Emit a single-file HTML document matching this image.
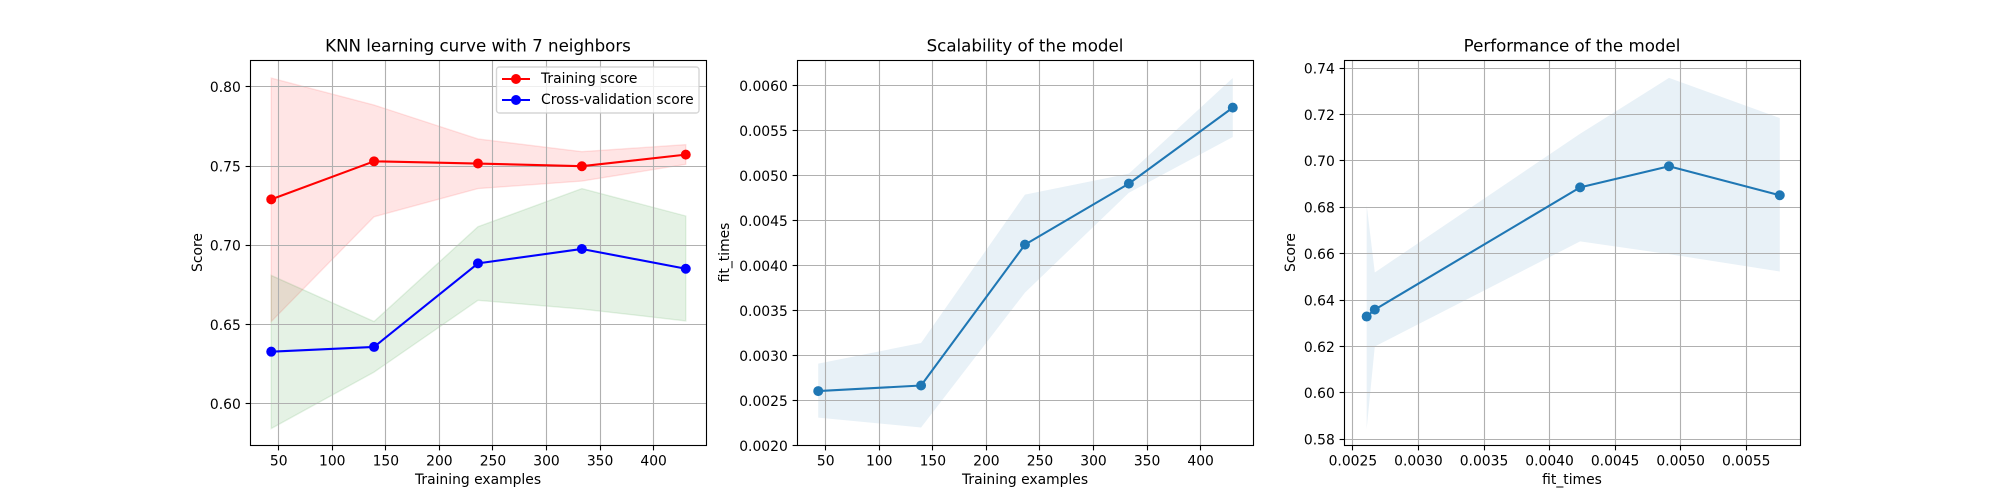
<!DOCTYPE html>
<html>
<head>
<meta charset="utf-8">
<title>KNN learning curve</title>
<style>
html,body{margin:0;padding:0;background:#fff;width:2000px;height:500px;overflow:hidden}
svg{display:block}
text{font-family:"DejaVu Sans","Liberation Sans",sans-serif;fill:#000}
</style>
</head>
<body>
<svg id="fig" xmlns="http://www.w3.org/2000/svg" width="2000" height="500" viewBox="0 0 2000 500">
  <rect x="0" y="0" width="2000" height="500" fill="#fff"/>

  <g id="ax1"></g>
  <g>
    <rect x="496.5" y="67" width="202.5" height="46" rx="2.8" ry="2.8" fill="#fff" fill-opacity="0.8" stroke="#ccc" stroke-opacity="0.8" stroke-width="1.39"/>
    <g>
      <line x1="502" y1="79" x2="530" y2="79" stroke="#ff0000" stroke-width="2.08"/>
      <circle cx="516" cy="79" r="4.3" fill="#ff0000" stroke="#ff0000" stroke-width="1.39"/>
      <text x="541" y="83" font-size="13.89">Training score</text>
    </g>
    <g>
      <line x1="502" y1="100" x2="530" y2="100" stroke="#0000ff" stroke-width="2.08"/>
      <circle cx="516" cy="100" r="4.3" fill="#0000ff" stroke="#0000ff" stroke-width="1.39"/>
      <text x="541" y="104" font-size="13.89">Cross-validation score</text>
    </g>
  </g>
  <text x="478" y="51.5" font-size="16.67" text-anchor="middle">KNN learning curve with 7 neighbors</text>
  <text x="478" y="484" font-size="13.89" text-anchor="middle">Training examples</text>
  <text x="0" y="0" font-size="13.89" text-anchor="middle" transform="translate(202 252.5) rotate(-90)">Score</text>

  <g id="ax2"></g>
  <text x="1025" y="51.5" font-size="16.67" text-anchor="middle">Scalability of the model</text>
  <text x="1025" y="484" font-size="13.89" text-anchor="middle">Training examples</text>
  <text x="0" y="0" font-size="13.89" text-anchor="middle" transform="translate(729 252.5) rotate(-90)">fit_times</text>

  <g id="ax3"></g>
  <text x="1572" y="51.5" font-size="16.67" text-anchor="middle">Performance of the model</text>
  <text x="1572" y="484" font-size="13.89" text-anchor="middle">fit_times</text>
  <text x="0" y="0" font-size="13.89" text-anchor="middle" transform="translate(1295 252.5) rotate(-90)">Score</text>
</svg>

<script>
// ---- data ----
const trainSizes = [43, 139, 236, 333, 430];

const trainMean  = [0.7290, 0.7530, 0.7516, 0.7499, 0.7572];
const trainUpper = [0.8055, 0.7885, 0.7671, 0.7591, 0.7635];
const trainLower = [0.6519, 0.7180, 0.7358, 0.7405, 0.7511];

const testMean  = [0.6329, 0.6359, 0.6886, 0.6977, 0.6852];
const testUpper = [0.6810, 0.6519, 0.7117, 0.7358, 0.7185];
const testLower = [0.5844, 0.6200, 0.6653, 0.6598, 0.6523];

const fitMean  = [0.002605, 0.002667, 0.004233, 0.004911, 0.005756];
const fitUpper = [0.002910, 0.003140, 0.004789, 0.005022, 0.006085];
const fitLower = [0.002310, 0.002200, 0.003700, 0.004810, 0.005430];

const sizeTicks   = ['50', '100', '150', '200', '250', '300', '350', '400'];
const scoreTicks1 = ['0.60', '0.65', '0.70', '0.75', '0.80'];
const fitTicksY   = ['0.0020', '0.0025', '0.0030', '0.0035', '0.0040', '0.0045', '0.0050', '0.0055', '0.0060'];
const fitTicksX   = ['0.0025', '0.0030', '0.0035', '0.0040', '0.0045', '0.0050', '0.0055'];
const scoreTicks3 = ['0.58', '0.60', '0.62', '0.64', '0.66', '0.68', '0.70', '0.72', '0.74'];

// ---- axis limits ----
const sizeDomain   = [23.65, 449.35];
const scoreDomain1 = [0.5737, 0.8166];
const fitDomainY   = [0.00200, 0.00628];
const fitDomainX   = [0.002436, 0.005914];
const scoreDomain3 = [0.5773, 0.7433];

// ---- drawing ----
const NS = 'http://www.w3.org/2000/svg';
const TOP = 60, BOTTOM = 445;

function make(parent, tag, attrs) {
  const el = document.createElementNS(NS, tag);
  for (const k in attrs) el.setAttribute(k, attrs[k]);
  parent.appendChild(el);
  return el;
}
function snap(v) { return Math.round(v - 0.5) + 0.5; }
function linear(domain, range) {
  return v => range[0] + (v - domain[0]) / (domain[1] - domain[0]) * (range[1] - range[0]);
}

function drawBand(g, sx, sy, xs, lo, hi, color, edged, name) {
  const pts = [];
  xs.forEach((x, i) => pts.push(sx(x).toFixed(2) + ',' + sy(hi[i]).toFixed(2)));
  for (let i = xs.length - 1; i >= 0; i--) pts.push(sx(xs[i]).toFixed(2) + ',' + sy(lo[i]).toFixed(2));
  const band = make(g, 'polygon', {
    points: pts.join(' '), fill: color, 'fill-opacity': 0.1,
    stroke: edged ? color : 'none', 'stroke-opacity': 0.1, 'stroke-width': 1.39
  });
  
  
}

function drawSeries(g, sx, sy, xs, ys, color, name) {
  const pts = xs.map((x, i) => sx(x).toFixed(2) + ',' + sy(ys[i]).toFixed(2)).join(' ');
  const line = make(g, 'polyline', {
    points: pts, fill: 'none', stroke: color, 'stroke-width': 2.08, 'stroke-linejoin': 'round'
  });
  
  
  xs.forEach((x, i) => {
    const dot = make(g, 'circle', {
      cx: sx(x).toFixed(2), cy: sy(ys[i]).toFixed(2), r: 4.3,
      fill: color, stroke: color, 'stroke-width': 1.39
    });
    
    
  });
}

function drawGrid(g, sx, sy, xTicks, yTicks) {
  xTicks.forEach(t => {
    const px = snap(sx(Number(t)));
    const gl = make(g, 'line', { x1: px, x2: px, y1: TOP, y2: BOTTOM, stroke: '#b0b0b0', 'stroke-width': 1.11 });
    
    
  });
  yTicks.forEach(t => {
    const py = snap(sy(Number(t)));
    const gl = make(g, 'line', { x1: sx.left, x2: sx.right, y1: py, y2: py, stroke: '#b0b0b0', 'stroke-width': 1.11 });
    
    
  });
}

function drawAxes(g, sx, sy, xTicks, yTicks) {
  const frame = make(g, 'rect', {
    x: sx.left, y: TOP + 0.5, width: sx.right - sx.left, height: BOTTOM - TOP,
    fill: 'none', stroke: '#000', 'stroke-width': 1.11
  });
  
  
  xTicks.forEach(t => {
    const px = snap(sx(Number(t)));
    const tick = make(g, 'line', { x1: px, x2: px, y1: BOTTOM + 0.5, y2: BOTTOM + 5.4, stroke: '#000', 'stroke-width': 1.11 });
    
    
    const label = make(g, 'text', { x: sx(Number(t)).toFixed(2), y: 465.5, 'font-size': 13.89, 'text-anchor': 'middle' });
    
    
    label.textContent = t;
  });
  yTicks.forEach(t => {
    const py = snap(sy(Number(t)));
    const tick = make(g, 'line', { x1: sx.left - 4.9, x2: sx.left, y1: py, y2: py, stroke: '#000', 'stroke-width': 1.11 });
    
    
    const label = make(g, 'text', { x: sx.left - 9.7, y: (sy(Number(t)) + 5.3).toFixed(2), 'font-size': 13.89, 'text-anchor': 'end' });
    
    
    label.textContent = t;
  });
}

function xScale(domain, left, right) {
  const s = linear(domain, [left, right]);
  s.left = left; s.right = right;
  return s;
}
const yScale = domain => linear(domain, [BOTTOM + 0.5, TOP + 0.5]);

// Panel 1: learning curve
(function () {
  const g = document.getElementById('ax1');
  const sx = xScale(sizeDomain, 250.5, 706.5), sy = yScale(scoreDomain1);
  drawBand(g, sx, sy, trainSizes, trainLower, trainUpper, '#ff0000', true, 'training-score');
  drawBand(g, sx, sy, trainSizes, testLower, testUpper, '#008000', true, 'cross-validation-score');
  drawGrid(g, sx, sy, sizeTicks, scoreTicks1);
  drawSeries(g, sx, sy, trainSizes, trainMean, '#ff0000', 'training-score');
  drawSeries(g, sx, sy, trainSizes, testMean, '#0000ff', 'cross-validation-score');
  drawAxes(g, sx, sy, sizeTicks, scoreTicks1);
})();

// Panel 2: scalability
(function () {
  const g = document.getElementById('ax2');
  const sx = xScale(sizeDomain, 797.5, 1253.5), sy = yScale(fitDomainY);
  drawBand(g, sx, sy, trainSizes, fitLower, fitUpper, '#1f77b4', false, 'fit-times');
  drawGrid(g, sx, sy, sizeTicks, fitTicksY);
  drawSeries(g, sx, sy, trainSizes, fitMean, '#1f77b4', 'fit-times');
  drawAxes(g, sx, sy, sizeTicks, fitTicksY);
})();

// Panel 3: performance
(function () {
  const g = document.getElementById('ax3');
  const sx = xScale(fitDomainX, 1344.5, 1800.5), sy = yScale(scoreDomain3);
  drawBand(g, sx, sy, fitMean, testLower, testUpper, '#1f77b4', false, 'performance');
  drawGrid(g, sx, sy, fitTicksX, scoreTicks3);
  drawSeries(g, sx, sy, fitMean, testMean, '#1f77b4', 'performance');
  drawAxes(g, sx, sy, fitTicksX, scoreTicks3);
})();
</script>
</body>
</html>
